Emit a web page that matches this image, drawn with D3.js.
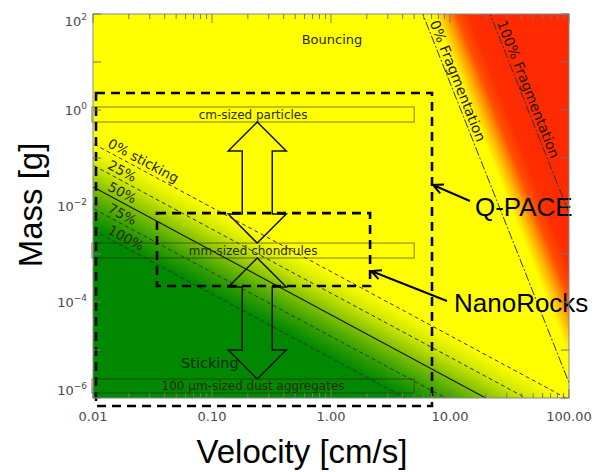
<!DOCTYPE html>
<html><head><meta charset="utf-8">
<script src="https://cdn.jsdelivr.net/npm/d3@7"></script>
<style>html,body{margin:0;padding:0;background:#fff;}svg{display:block;}</style>
</head><body>
<script>
// ---------- data ----------
const xTicks = [0.01, 0.1, 1, 10, 100];
const xTickLabels = ["0.01", "0.10", "1.00", "10.00", "100.00"];
const yTicks = [1e-6, 1e-4, 1e-2, 1, 1e2];
const yTickExponents = ["\u22126", "\u22124", "\u22122", "0", "2"];

const stickingLevels = ["0% sticking", "25%", "50%", "75%", "100%"];
const stickingMassAtMinV = [0.1995, 0.0708, 0.0251, 0.00891, 0.00316]; // g at 0.01 cm/s
const stickingExponent = -4 / 3;

const fragLevels = ["0% Fragmentation", "100% Fragmentation"];
const fragVelAtMaxM = [5.9, 21.7]; // cm/s at 100 g
const fragExponent = -6.25;

const sizeClasses = ["cm-sized particles", "mm-sized chondrules", "100 \u00b5m-sized dust aggregates"];
const sizeMassLow = [0.562, 8.25e-4, 1.27e-6];
const sizeMassHigh = [1.155, 1.69e-3, 2.49e-6];
const sizeVelLow = 0.0098, sizeVelHigh = 5.0;

const experiments = ["Q-PACE", "NanoRocks"];
const expVelLow = [0.0106, 0.0345];
const expVelHigh = [7.06, 2.13];
const expMassLow = [6.8e-7, 2.15e-4];
const expMassHigh = [2.26, 7.1e-3];
const expPointerMass = [0.0274, 4.43e-4];
const expLabelVel = [16.2, 10.8];
const expLabelMass = [6.2e-3, 6.2e-5];

const arrowVelocity = 0.24;
const arrowMassTop = [0.562, 8.25e-4];
const arrowMassBottom = [1.69e-3, 2.49e-6];

const regionLabels = ["Bouncing", "Sticking"];
const regionLabelVel = [1.02, 0.096];
const regionLabelMass = [23.7, 4.2e-6];

// ---------- layout ----------
const W = 601, H = 472;
const L = 93, R = 569, T = 14, B = 398;
const x = d3.scaleLog().domain([0.01, 100]).range([L, R]);
const y = d3.scaleLog().domain([1e-6, 1e2]).range([B, T]);

const svg = d3.select("body").append("svg").attr("width", W).attr("height", H)
  .attr("font-family", "DejaVu Sans, sans-serif");
const defs = svg.append("defs");
defs.append("clipPath").attr("id", "plotclip").append("rect")
  .attr("x", L).attr("y", T).attr("width", R - L).attr("height", B - T);

const stickM = (i, v) => stickingMassAtMinV[i] * Math.pow(v / 0.01, stickingExponent);
const fragV = (i, m) => fragVelAtMaxM[i] * Math.pow(m / 100, 1 / fragExponent);
const stickPt = (i, v) => [x(v), y(stickM(i, v))];
const fragPt = (i, m) => [x(fragV(i, m)), y(m)];

function gradientVector(p0a, p0b, q) {
  const dx = p0b[0] - p0a[0], dy = p0b[1] - p0a[1];
  const len = Math.hypot(dx, dy);
  const nx = -dy / len, ny = dx / len;
  const d = (q[0] - p0a[0]) * nx + (q[1] - p0a[1]) * ny;
  return [p0a, [p0a[0] + nx * d, p0a[1] + ny * d]];
}

// sticking gradient
{
  const a = stickPt(0, 0.3), b = stickPt(0, 3), q = stickPt(4, 1);
  const [s, e] = gradientVector(a, b, q);
  const g = defs.append("linearGradient").attr("id", "stickGrad")
    .attr("gradientUnits", "userSpaceOnUse")
    .attr("x1", s[0]).attr("y1", s[1]).attr("x2", e[0]).attr("y2", e[1]);
  [[0, "#ffff00"], [0.25, "#cce600"], [0.5, "#80c000"], [0.75, "#36a000"], [1, "#008800"]]
    .forEach(([o, c]) => g.append("stop").attr("offset", o).attr("stop-color", c));
}
// fragmentation gradient
{
  const a = fragPt(0, 1), b = fragPt(0, 1e-3), q = fragPt(1, 1);
  const [s, e] = gradientVector(a, b, q);
  const g = defs.append("linearGradient").attr("id", "fragGrad")
    .attr("gradientUnits", "userSpaceOnUse")
    .attr("x1", s[0]).attr("y1", s[1]).attr("x2", e[0]).attr("y2", e[1]);
  [[0, "#ffff00"], [0.16, "#ffff00"], [0.33, "#ffb000"], [0.5, "#ff5200"], [0.68, "#ff2e00"], [1, "#ff2a00"]]
    .forEach(([o, c]) => g.append("stop").attr("offset", o).attr("stop-color", c));
}

const plot = svg.append("g").attr("clip-path", "url(#plotclip)");
plot.append("rect").attr("x", L).attr("y", T).attr("width", R - L).attr("height", B - T).attr("fill", "#ffff00");

// sticking region
{
  const p1 = stickPt(0, 0.005), p2 = stickPt(0, 200);
  plot.append("path").attr("fill", "url(#stickGrad)")
    .attr("d", d3.line()([p1, p2, [x(200), y(1e-8)], [x(0.005), y(1e-8)]]) + "Z");
}
// fragmentation region
{
  const p1 = fragPt(0, 1e3), p2 = fragPt(0, 1e-8);
  plot.append("path").attr("fill", "url(#fragGrad)")
    .attr("d", d3.line()([p1, p2, [x(1e3), y(1e-8)], [x(1e3), y(1e3)]]) + "Z");
}

// sticking lines
stickingLevels.forEach((lab, i) => {
  plot.append("path").attr("d", d3.line()([stickPt(i, 0.005), stickPt(i, 200)]))
    .attr("fill", "none").attr("stroke", i === 2 ? "#111" : "#333")
    .attr("stroke-width", i === 2 ? 1.1 : 1)
    .attr("stroke-dasharray", i === 2 ? null : "4,3");
});
// fragmentation lines
fragLevels.forEach((lab, i) => {
  plot.append("path").attr("d", d3.line()([fragPt(i, 1e3), fragPt(i, 1e-8)]))
    .attr("fill", "none").attr("stroke", "#333").attr("stroke-width", 1)
    .attr("stroke-dasharray", "9,2,2,2");
});

// sticking labels
stickingLevels.forEach((lab, i) => {
  const a = stickPt(i, 0.0126), b = stickPt(i, 1);
  const ang = Math.atan2(b[1] - a[1], b[0] - a[0]);
  const off = 4;
  const px = a[0] + Math.sin(ang) * off, py = a[1] - Math.cos(ang) * off;
  plot.append("text").attr("transform", `translate(${px},${py}) rotate(${ang * 180 / Math.PI})`)
    .attr("font-size", 13.5).attr("fill", "#2a2a00").text(lab);
});
// fragmentation labels
fragLevels.forEach((lab, i) => {
  const a = fragPt(i, 62), b = fragPt(i, 1e-3);
  const ang = Math.atan2(b[1] - a[1], b[0] - a[0]);
  const off = 3;
  const px = a[0] + Math.sin(ang) * off, py = a[1] - Math.cos(ang) * off;
  plot.append("text").attr("transform", `translate(${px},${py}) rotate(${ang * 180 / Math.PI})`)
    .attr("font-size", 14).attr("fill", "#2a1500").text(lab);
});

// region labels
regionLabels.forEach((lab, i) => {
  svg.append("text").attr("x", x(regionLabelVel[i])).attr("y", y(regionLabelMass[i]))
    .attr("text-anchor", "middle").attr("font-size", i === 0 ? 13 : 14.5)
    .attr("fill", i === 0 ? "#2a2a00" : "#0a2a0a").text(lab);
});

// size class boxes
sizeClasses.forEach((lab, i) => {
  const x0 = x(sizeVelLow), x1 = x(sizeVelHigh), y0 = y(sizeMassHigh[i]), y1 = y(sizeMassLow[i]);
  svg.append("rect").attr("x", x0).attr("y", y0).attr("width", x1 - x0).attr("height", y1 - y0)
    .attr("fill", "none").attr("stroke", "rgba(40,40,0,0.6)").attr("stroke-width", 1);
  svg.append("text").attr("x", (x0 + x1) / 2).attr("y", (y0 + y1) / 2 + 4.5)
    .attr("text-anchor", "middle").attr("font-size", 12).attr("fill", "#2a2a10").text(lab);
});

// double arrows
arrowMassTop.forEach((mt, i) => {
  const cx = x(arrowVelocity), yt = y(mt), yb = y(arrowMassBottom[i]);
  const hw = 29, sw = 15, hl = 29;
  const pts = [[cx, yt], [cx + hw, yt + hl], [cx + sw, yt + hl], [cx + sw, yb - hl], [cx + hw, yb - hl], [cx, yb],
    [cx - hw, yb - hl], [cx - sw, yb - hl], [cx - sw, yt + hl], [cx - hw, yt + hl]];
  svg.append("path").attr("d", d3.line()(pts) + "Z").attr("fill", "none")
    .attr("stroke", "#111").attr("stroke-width", 1.5).attr("stroke-linejoin", "miter");
});

// experiment boxes
experiments.forEach((lab, i) => {
  const x0 = x(expVelLow[i]), x1 = x(expVelHigh[i]), y0 = y(expMassHigh[i]), y1 = y(expMassLow[i]);
  svg.append("rect").attr("x", x0).attr("y", y0).attr("width", x1 - x0).attr("height", y1 - y0)
    .attr("fill", "none").attr("stroke", "#000").attr("stroke-width", 2.6).attr("stroke-dasharray", "9,6");
  const lx = x(expLabelVel[i]), ly = y(expLabelMass[i]);
  svg.append("text").attr("x", lx).attr("y", ly).attr("font-family", "Liberation Sans, Arial, sans-serif")
    .attr("font-size", 26).attr("fill", "#000").text(lab);
  const tip = [x1 + 1, y(expPointerMass[i])];
  const tail = i === 0 ? [lx - 5, ly - 15] : [lx - 7, ly - 11];
  const ang = Math.atan2(tip[1] - tail[1], tip[0] - tail[0]);
  const hlen = 11, spread = 0.45;
  const h1 = [tip[0] - hlen * Math.cos(ang - spread), tip[1] - hlen * Math.sin(ang - spread)];
  const h2 = [tip[0] - hlen * Math.cos(ang + spread), tip[1] - hlen * Math.sin(ang + spread)];
  svg.append("path").attr("d", d3.line()([tail, tip]) + "M" + h1 + "L" + tip + "L" + h2)
    .attr("fill", "none").attr("stroke", "#000").attr("stroke-width", 2);
});

// frame and ticks
const axisG = svg.append("g");
axisG.append("rect").attr("x", L).attr("y", T).attr("width", R - L).attr("height", B - T)
  .attr("fill", "none").attr("stroke", "#8a8a8a").attr("stroke-width", 1);
const xMinor = [];
for (let d = -2; d < 2; d++) for (let k = 1; k <= 9; k++) xMinor.push(k * Math.pow(10, d));
xMinor.push(100);
xMinor.forEach(v => {
  const major = xTicks.some(t => Math.abs(t - v) / t < 1e-9);
  const len = major ? 9 : 5;
  axisG.append("line").attr("x1", x(v)).attr("x2", x(v)).attr("y1", B).attr("y2", B - len).attr("stroke", "#777");
  axisG.append("line").attr("x1", x(v)).attr("x2", x(v)).attr("y1", T).attr("y2", T + len).attr("stroke", "#777");
});
for (let e = -6; e <= 2; e++) {
  const v = Math.pow(10, e);
  axisG.append("line").attr("x1", L).attr("x2", L + 8).attr("y1", y(v)).attr("y2", y(v)).attr("stroke", "#777");
  axisG.append("line").attr("x1", R).attr("x2", R - 8).attr("y1", y(v)).attr("y2", y(v)).attr("stroke", "#777");
}
xTicks.forEach((t, i) => {
  axisG.append("text").attr("x", x(t)).attr("y", 421).attr("text-anchor", "middle")
    .attr("font-size", 13).attr("fill", "#4a4a4a").text(xTickLabels[i]);
});
yTicks.forEach((t, i) => {
  const yy = Math.min(Math.max(y(t), T + 7), B - 8);
  const tx = axisG.append("text").attr("x", 87).attr("y", yy + 5).attr("text-anchor", "end")
    .attr("font-size", 13).attr("fill", "#4a4a4a");
  tx.append("tspan").text("10");
  tx.append("tspan").attr("dy", -6).attr("font-size", 9).text(yTickExponents[i]);
});

// axis titles
svg.append("text").attr("x", 302).attr("y", 463).attr("text-anchor", "middle")
  .attr("font-family", "Liberation Sans, Arial, sans-serif").attr("font-size", 33).attr("fill", "#000")
  .text("Velocity [cm/s]");
svg.append("text").attr("transform", "translate(42,205) rotate(-90)").attr("text-anchor", "middle")
  .attr("font-family", "Liberation Sans, Arial, sans-serif").attr("font-size", 33).attr("fill", "#000")
  .text("Mass [g]");
</script>
</body></html>
